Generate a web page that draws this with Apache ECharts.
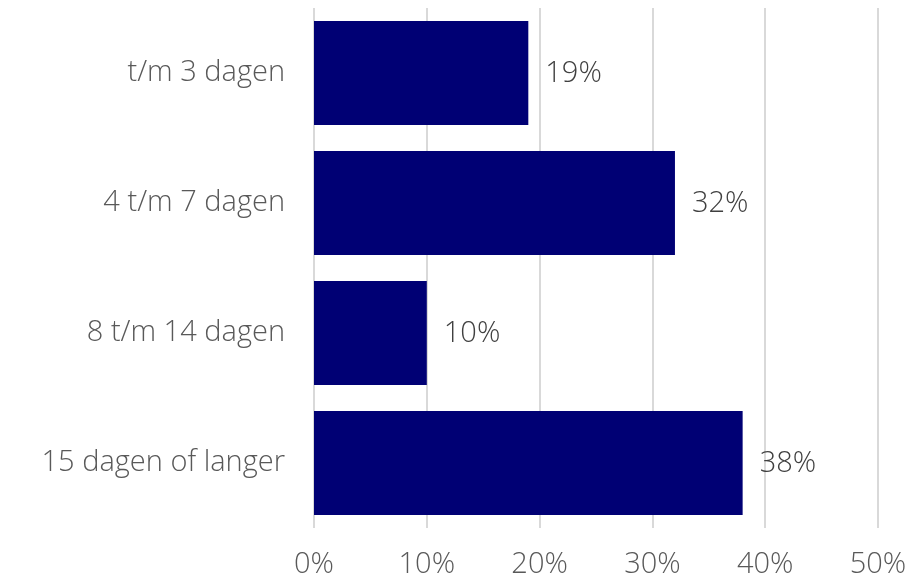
<!DOCTYPE html>
<html><head><meta charset="utf-8">
<script src="https://cdn.jsdelivr.net/npm/echarts@6/dist/echarts.min.js"></script>
<style>html,body{margin:0;padding:0;background:#fff}#c{width:910px;height:581px}</style>
</head><body><div id="c"></div>
<script>
const categories = ['t/m 3 dagen', '4 t/m 7 dagen', '8 t/m 14 dagen', '15 dagen of langer'];
const values = [19, 32, 10, 38];
const xTicks = [0, 10, 20, 30, 40, 50];

const chart = echarts.init(document.getElementById('c'));
const font = '"Open Sans", sans-serif';
chart.setOption({
  animation: false,
  grid: {left: 314, right: 32, top: 8, bottom: 53},
  xAxis: {
    type: 'value', min: xTicks[0], max: xTicks[xTicks.length-1], interval: 10,
    axisLine: {show: false}, axisTick: {show: false},
    splitLine: {lineStyle: {color: '#d9d9d9', width: 2}},
    axisLabel: {formatter: '{value}%', color: '#595959', fontSize: 29, fontWeight: 300, fontFamily: font, margin: 22}
  },
  yAxis: {
    type: 'category', data: categories, inverse: true,
    axisLine: {show: false}, axisTick: {show: false},
    axisLabel: {color: '#595959', fontSize: 29, fontWeight: 300, fontFamily: font, margin: 29}
  },
  series: [{
    type: 'bar', data: values, barCategoryGap: '20%',
    itemStyle: {color: '#000074'},
    label: {show: true, position: 'right', distance: 17, offset: [0, 1], formatter: '{c}%', color: '#404040', fontSize: 29, fontWeight: 300, fontFamily: font}
  }]
});
</script></body></html>
